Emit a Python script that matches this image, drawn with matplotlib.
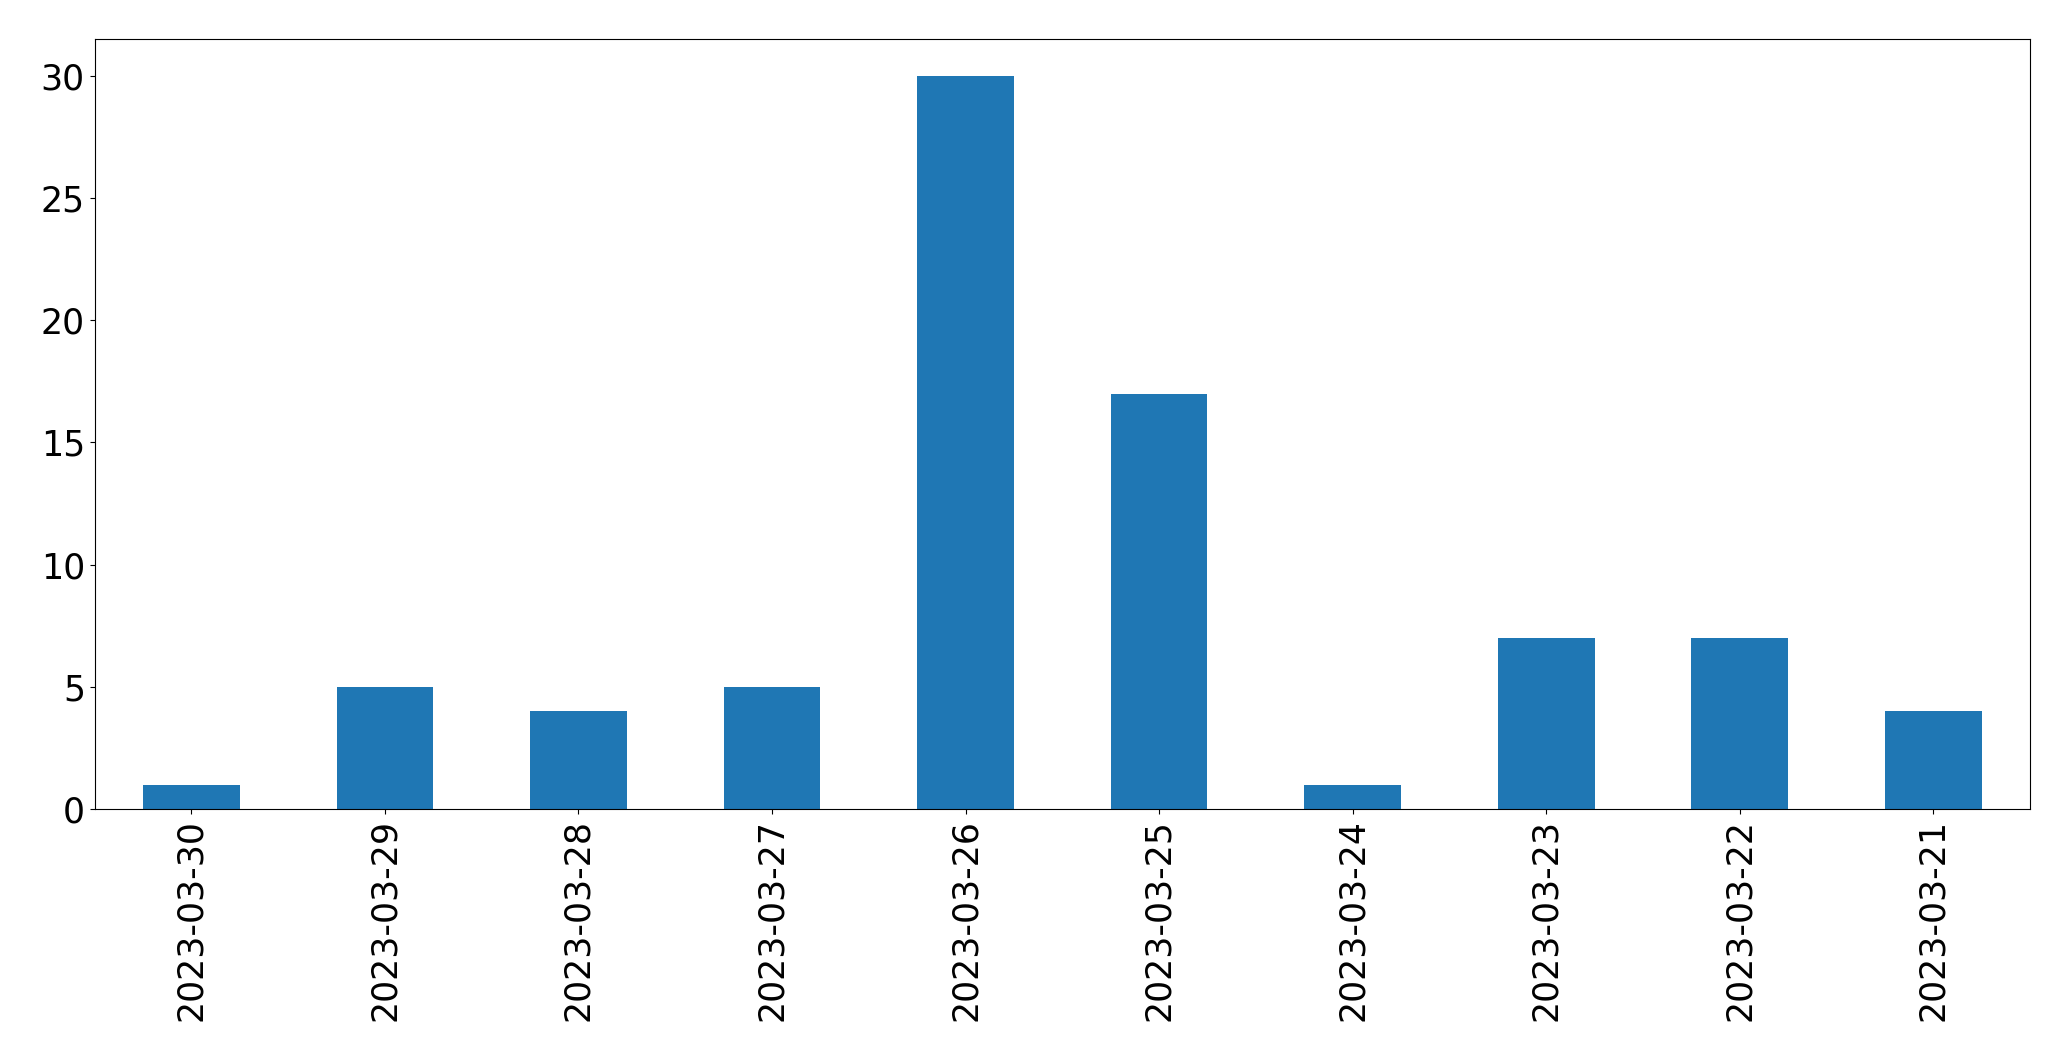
import matplotlib
matplotlib.use("Agg")
import matplotlib.pyplot as plt

dates = ["2023-03-30", "2023-03-29", "2023-03-28", "2023-03-27", "2023-03-26",
         "2023-03-25", "2023-03-24", "2023-03-23", "2023-03-22", "2023-03-21"]
counts = [1, 5, 4, 5, 30, 17, 1, 7, 7, 4]

fig = plt.figure(figsize=(20.71, 10.61), dpi=100)
ax = fig.add_axes([0.0457, 0.2375, 0.9345, 0.7255])
x = list(range(len(dates)))
ax.bar(x, counts, width=0.5, color="#1f77b4")
ax.set_xlim(-0.5, len(dates) - 0.5)
ax.set_ylim(0, max(counts) * 1.05)
ax.set_xticks(x)
ax.set_xticklabels(dates, rotation=90)
ax.tick_params(labelsize=25)
fig.savefig("out.png", dpi=100)
